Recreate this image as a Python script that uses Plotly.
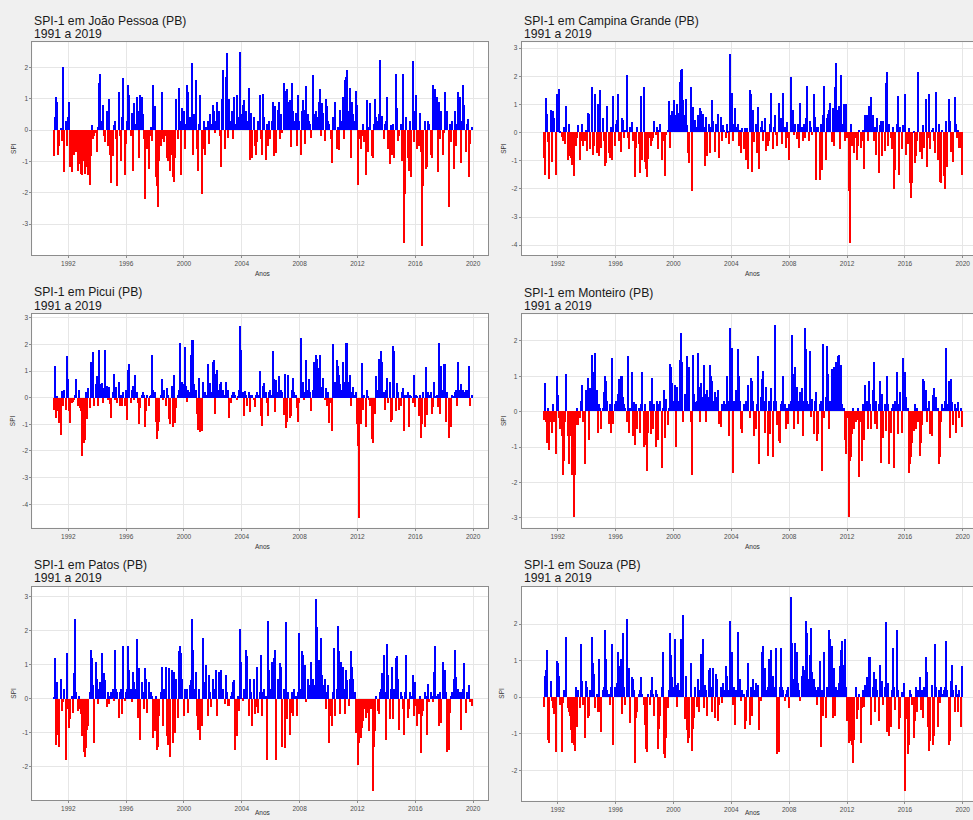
import plotly.graph_objects as go
import pandas as pd

# ---------------- data ----------------
months = pd.date_range("1991-01-01", "2019-12-01", freq="MS")
tick_years = [1992, 1996, 2000, 2004, 2008, 2012, 2016, 2020]
tick_labels = ["1992", "1996", "2000", "2004", "2008", "2012", "2016", "2020"]
titles = ["SPI-1 em João Pessoa (PB)", "SPI-1 em Campina Grande (PB)", "SPI-1 em Picui (PB)",
          "SPI-1 em Monteiro (PB)", "SPI-1 em Patos (PB)", "SPI-1 em Souza (PB)"]
subtitle = "1991 a 2019"

jp_spi = [
    -0.85, 0.4, 1.05, 0.9, -0.8, -0.5, 0.05, -0.35, 2.0, -1.35, 0.3, -0.5,
    0.4, 0.9, -1.2, -1.35, -0.6, -0.8, -0.4, -0.7, -1.3, -1.05, -1.1, -1.4,
    -1.45, -1.0, -1.4, -0.85, -1.2, -1.45, -1.75, -0.85, 0.15, -0.3, -0.2, -0.1,
    -0.7, 0.1, 1.5, 1.8, 0.3, 0.8, -0.2, -0.4, 0.6, -0.5, 1.0, -0.8,
    -1.7, -0.85, 0.15, 0.3, -0.3, -1.8, 1.2, -0.2, -1.0, 0.4, 1.65, -1.45,
    -0.45, 0.3, 1.45, 1.1, -0.2, 0.55, -1.3, 0.85, 0.2, 1.05, 0.6, -0.9,
    1.1, 1.05, 0.5, -0.3, -2.2, -0.4, -0.6, -1.25, -0.2, 0.1, -0.35, 1.45,
    0.75, -1.5, -1.8, -2.45, -1.0, -0.5, 1.2, -0.3, -0.4, -0.2, -0.9, -1.0,
    -0.2, -1.3, -0.8, -1.5, -1.65, -0.9, 1.0, -0.3, 1.35, 0.3, -1.45, 0.7,
    0.6, -0.6, 0.2, 1.45, 1.2, 0.4, 0.3, 2.15, -0.8, 0.5, 1.6, -0.6,
    -1.3, 0.2, 1.1, -2.05, -0.6, 0.3, -0.8, 0.1, 0.3, -0.45, 0.5, 0.2,
    0.8, 0.6, -0.1, 0.3, 0.9, 0.6, -0.2, -1.2, 1.0, 1.9, -0.6, 1.7,
    2.45, -0.25, 1.0, 0.3, 0.6, -0.3, 1.05, 0.2, 1.1, 0.4, 0.1, 2.5,
    0.5, 0.8, 0.95, 0.4, 0.6, 0.3, 1.35, -0.95, 0.55, -0.9, 0.4, -0.5,
    -0.8, -0.4, 0.3, 1.1, -0.3, -0.8, 1.15, 0.4, -0.95, 0.2, -0.5, 0.3,
    -0.3, 0.3, 0.9, -0.85, 0.75, -0.75, 0.65, 0.9, -0.3, 0.5, -0.1, 1.5,
    1.25, 0.4, 1.3, 0.9, 0.95, -0.55, 1.5, 0.6, 0.3, 0.55, -0.5, 1.1,
    0.3, -0.8, 0.6, 0.95, 0.65, -0.45, 1.4, 0.5, 0.3, 0.2, -0.25, 1.75,
    0.5, 0.3, 0.6, 0.4, 0.9, 1.3, -0.2, 0.85, 0.55, -0.35, 1.0, 0.75,
    0.3, 0.2, -0.3, -1.05, 0.4, 0.2, 0.9, -0.6, 0.1, -0.65, 0.65, 0.3,
    1.05, -0.3, 1.6, 1.7, 1.9, 0.6, 1.35, -0.9, 0.9, 0.5, 0.3, 1.25,
    0.8, -1.75, -0.3, -0.6, -0.2, 0.2, -0.4, -1.45, 0.95, -0.7, 0.1, 0.85,
    -0.85, -0.9, 0.2, 1.0, 0.4, 0.3, 0.5, 2.25, 0.1, 0.45, -0.3, 0.2,
    0.3, 1.05, -0.6, -1.1, 0.15, -0.8, 0.2, -0.9, 1.8, 0.7, -0.35, -0.2,
    0.2, -1.0, 1.8, -3.6, -2.05, 0.4, -0.9, -1.3, 0.3, -1.5, 2.2, -0.4,
    0.6, 1.1, -0.6, -0.5, 0.55, -0.7, -3.7, -1.8, 0.3, -1.25, -1.2, 0.3,
    0.2, -0.8, -0.9, 1.45, 0.3, 1.3, 1.05, -1.35, 0.9, -0.3, 0.6, -0.8,
    -0.1, 1.2, 0.3, 0.6, -2.45, 0.2, -0.4, 0.3, -1.25, 0.6, -0.5, 0.2,
    1.2, 1.05, -1.05, 0.3, 1.45, 0.8, -0.7, 0.2, 0.35, -1.5, -0.45, 0.1,
]

cg_spi = [
    -0.9, -1.5, 1.23, 0.65, -0.35, -1.65, 0.8, -1.05, 0.75, 0.5, -1.5, 1.35,
    0.8, 1.55, 0.05, -0.15, -0.3, 0.2, -0.4, 0.95, -1.0, 0.3, -0.85, -0.9,
    -1.15, -1.55, -0.4, -0.5, -0.2, 0.25, -1.0, -0.3, 0.3, -0.5, -0.3, 0.1,
    -0.65, 0.7, 0.65, -0.6, 1.6, -0.8, -0.5, 1.35, -0.75, 1.0, -0.85, 1.5,
    -0.55, 0.5, -0.3, -1.2, -1.1, 0.95, -0.75, -0.9, 0.2, -1.0, 1.3, -0.5,
    0.3, 0.45, 1.35, -0.3, -0.7, 0.5, 0.45, -0.2, 0.1, 2.05, -0.2, -0.6,
    0.2, 0.35, -0.3, -0.2, -1.6, -0.55, 0.2, -0.4, -1.45, 1.3, -1.0, 1.6,
    -1.05, -1.3, -1.6, -0.95, -0.2, -0.5, -0.3, -0.2, 0.4, -0.1, 0.2, -0.6,
    0.1, 0.3, -1.0, -0.3, -0.2, -1.55, -0.1, 0.1, 1.1, -0.55, 0.6, 0.75,
    1.15, 0.4, 0.6, 1.0, 0.7, 1.8, 2.2, 2.25, 1.15, 0.6, 1.2, 0.25,
    -0.75, -1.1, 1.6, -2.1, 0.9, 0.3, 0.45, 0.2, 0.6, 0.55, 0.85, 0.75,
    0.65, 0.2, -1.2, 0.55, -0.85, 0.3, -0.75, 0.2, 1.15, 0.4, -0.7, 0.3,
    0.2, 0.65, -0.9, 0.55, -0.3, 0.25, 0.1, -0.2, 0.3, 0.05, -0.4, 2.8,
    1.4, -0.3, 0.3, 0.85, 0.2, 0.3, -0.5, 0.1, -0.75, 0.15, -0.6, 0.15,
    -1.0, 0.15, -1.3, 1.5, 1.35, -1.4, 0.8, -0.35, 0.3, -0.75, 0.9, -1.3,
    0.2, 0.4, -0.3, 0.1, 0.5, -0.65, -0.5, -0.3, 0.3, 1.4, -0.6, 0.2,
    0.6, -0.1, -0.5, 1.05, 0.3, 0.5, -0.4, 1.4, 0.2, -0.55, 0.35, -0.2,
    -1.0, 1.95, 0.3, 0.8, -0.1, 0.3, -0.25, 0.3, -0.55, 1.05, 0.2, -0.3,
    0.3, -0.2, 0.5, 1.65, -0.3, 0.4, 0.2, -0.1, 1.35, 0.55, -1.7, 0.2,
    0.2, -1.7, 0.3, -1.35, 0.6, 1.65, -1.0, 0.5, 0.65, 0.8, 1.05, -0.35,
    0.85, -0.5, 1.6, 2.45, 0.8, 0.95, -0.6, 2.05, 0.3, 1.0, -0.3, 1.0,
    -0.2, -2.1, -3.95, 0.3, -0.5, -0.3, -0.75, -0.2, -1.0, -0.5, 0.1, -0.55,
    -0.3, 0.1, -1.3, 0.6, 0.6, -0.3, 0.95, 0.3, 1.25, 0.6, -0.3, 0.2,
    -0.8, 0.5, -1.45, 0.25, 0.4, -0.85, 0.4, -0.65, 1.75, 2.15, -0.5, 0.3,
    -0.2, -0.6, 0.2, -2.0, -1.35, 0.3, 1.3, -1.5, 0.2, -0.6, 0.25, 0.1,
    1.35, -0.8, -0.4, 0.15, -1.8, -2.35, -1.8, 0.05, -1.1, -0.85, -0.3, 2.15,
    -0.7, -0.3, -0.95, 0.25, -0.55, 1.2, -1.25, -0.2, 1.35, -0.6, 0.1, 0.15,
    -0.3, -0.75, 1.45, -1.0, 0.3, -1.75, -1.8, 0.1, -1.55, -2.0, 0.4, -1.25,
    1.2, 0.4, -0.7, -0.3, -1.05, 1.25, 0.3, -0.2, 0.1, -0.55, -0.55, -1.5,
]

picui_spi = [
    -0.45, 1.2, -0.75, 0.05, -0.5, -0.95, -1.4, 0.25, -0.3, 0.3, -0.45, 1.55,
    0.7, -0.5, -0.95, -0.2, -0.15, -0.1, 0.1, 0.7, -0.3, 0.3, -0.4, -0.5,
    -2.2, -1.7, -1.6, 0.2, -0.8, 0.35, -0.4, 1.35, 0.6, 1.7, -0.3, 0.5,
    0.8, -0.3, 1.8, 0.5, 0.55, -0.2, 0.35, 1.8, 0.45, -0.1, 0.4, -0.25,
    -0.75, 0.2, 0.9, -0.1, 0.4, -0.2, 0.6, -0.3, 0.1, -0.3, 0.2, -0.3,
    0.3, -0.85, 1.05, 1.25, -0.2, 0.3, 0.45, -0.1, 0.85, 0.2, -0.2, -1.0,
    -0.4, 0.1, 0.2, 0.1, -1.1, -0.5, 0.1, -0.3, 0.05, 0.1, 1.6, 0.3,
    0.2, -0.9, -1.55, -1.25, -0.9, 0.1, 0.7, -0.1, 0.3, -0.3, 0.35, 0.1,
    -0.8, -1.0, 0.45, -1.1, 0.85, -0.95, -0.4, 0.1, 0.3, 2.05, 0.2, 0.6,
    0.5, 1.9, 0.45, -0.15, 0.3, 0.2, 1.6, 2.15, 2.15, 0.5, 0.3, -0.6,
    -1.2, 0.75, -1.3, -1.25, 0.6, 0.1, 0.2, 0.1, 1.25, 0.3, 0.55, 0.2,
    1.35, 1.4, -0.6, 0.9, 1.05, 0.3, 0.5, 0.6, 0.2, 0.3, 0.1, 0.6,
    0.1, 0.3, -0.75, -0.2, 0.1, 0.2, 0.2, 0.1, -0.1, 0.05, 0.3, 2.7,
    1.8, 0.2, -0.7, 0.25, 0.1, -0.3, 0.2, -0.55, 0.1, 0.1, -0.1, -0.35,
    0.1, 0.2, 0.1, 1.0, -0.7, -1.05, 0.45, 0.55, 0.2, -0.2, -0.7, 0.2,
    0.3, 0.1, 1.75, 0.7, -0.55, 0.65, 0.2, 0.8, 0.1, 0.3, 0.2, -0.65,
    0.9, -1.15, -0.9, 0.85, -0.75, -0.7, 0.3, 0.75, 0.2, 0.1, -0.4, -0.9,
    -0.2, 2.25, 0.3, 0.6, -0.1, 0.2, 1.4, 0.3, 0.7, 0.2, -0.5, 0.3,
    1.35, 0.3, 1.6, 1.45, 1.1, 1.6, 0.4, 0.3, 0.75, -0.1, 0.35, -0.3,
    0.2, -0.95, -0.2, -1.25, 2.0, 0.3, 0.6, 1.4, 1.2, 0.85, 0.5, 0.3,
    1.35, 0.6, 0.4, 2.05, 2.05, 0.6, 0.85, -0.3, 0.2, 0.4, 0.1, 0.2,
    -1.0, -1.8, -4.5, -1.0, 1.3, -0.45, 0.1, -1.1, 0.3, 0.05, -0.1, -0.3,
    -1.55, -1.7, -0.35, -0.6, 0.8, 0.3, 1.45, 0.2, 1.75, 1.35, 0.2, -0.45,
    0.3, 0.75, -0.2, 0.6, -0.9, -0.85, 1.95, 1.75, -0.5, 0.55, 0.2, -0.45,
    -0.3, 0.2, 0.35, -1.25, 0.1, 0.1, 0.2, -1.1, 0.1, 0.05, -0.2, 0.85,
    -0.35, 0.1, 0.05, -0.7, 0.1, -1.5, -1.0, 0.2, -1.1, 1.15, -0.65, 0.2,
    0.1, 0.2, -0.6, -0.35, 0.6, 0.05, 0.1, -0.35, 2.05, -0.6, 1.2, 0.3,
    1.25, 1.25, -0.9, 0.2, -1.5, -0.95, -1.1, 0.1, 0.05, 0.2, 0.3, -0.3,
    1.35, 0.3, 0.5, 0.2, 0.3, 0.2, 0.3, 0.1, 0.3, 1.2, -0.3, 0.1,
]

monteiro_spi = [
    -0.25, 0.8, -0.3, -0.9, 0.1, -1.1, -0.3, -0.6, 0.2, -0.3, -1.2, 1.0,
    0.45, -0.2, -0.5, -0.7, -1.8, -1.4, -0.3, 1.05, -0.7, -1.5, -0.7, -0.3,
    -1.8, -3.0, -1.8, -0.4, 0.1, -0.4, -0.2, 0.3, 0.75, -0.3, -1.5, 0.6,
    0.3, 0.95, -0.8, 0.65, 1.6, 1.1, 0.4, 1.65, 0.6, -0.6, 0.2, 0.1,
    -0.5, 0.1, 0.55, 1.0, 0.85, 0.3, -0.35, 0.2, -0.6, 1.5, -0.35, 0.2,
    0.3, 0.1, 0.5, 0.9, 1.0, 1.0, 0.4, 0.2, 0.1, -0.3, 1.55, -0.6,
    0.1, 1.1, -0.7, 0.25, -0.95, 0.2, -0.5, 0.1, -0.6, 0.2, 1.1, -1.0,
    0.2, -0.95, -1.7, -0.6, 0.3, -0.65, 0.95, -0.5, 0.2, -1.0, 0.3, -0.8,
    0.2, 0.3, -1.6, 0.1, 0.6, -0.75, 0.35, -0.4, 0.1, 1.35, 1.25, 0.8,
    0.3, 0.75, -1.0, 0.7, 0.3, 1.45, 2.2, 1.4, -0.3, 0.5, 0.3, 1.55,
    0.2, 1.25, -0.3, -1.8, 1.6, 0.5, 0.25, 0.3, 1.65, 0.7, -0.3, 0.8,
    0.4, 1.3, 0.5, -0.3, 0.6, 0.4, 1.3, 1.0, 0.85, 0.3, 0.55, 0.4,
    0.3, 0.6, -0.35, -0.45, 0.2, 0.1, 0.3, 0.2, 1.0, 0.3, -0.7, 2.35,
    1.8, -1.75, 0.3, 0.2, 0.6, 1.75, 1.0, 0.3, -0.5, -0.6, 0.2, 0.15,
    0.3, 0.2, 0.75, -0.2, 0.95, 0.85, 0.3, -0.7, -0.5, 0.2, 1.55, -1.5,
    0.4, 0.9, 1.15, 0.3, -0.6, 0.7, -1.25, 0.3, -0.65, 0.65, -1.3, 0.3,
    2.45, 0.3, -0.4, -0.85, -0.9, 0.2, 0.3, 1.0, 0.2, -0.5, 0.1, -0.35,
    0.2, 0.3, 2.15, 1.05, -0.5, 1.25, 0.7, -0.35, 0.3, 0.55, 0.65, -0.7,
    0.3, 2.35, 1.75, 0.3, 0.2, 1.7, -0.15, 0.35, -0.65, 0.3, 0.55, -0.85,
    -0.65, 0.2, 0.3, -1.7, 1.9, -0.2, 0.4, 1.85, 1.05, -0.5, 0.3, 1.2,
    1.0, 1.25, 0.8, 1.4, 1.55, 1.6, 0.6, 1.3, 0.2, 0.1, -0.8, -1.2,
    -0.2, -3.0, -1.4, -1.3, -0.65, 0.1, -0.5, -0.3, -0.25, 0.1, -1.85, -0.3,
    -1.4, 0.2, -0.8, 0.75, 0.3, -0.5, 0.85, 0.2, -0.5, 0.6, 1.4, -0.35,
    0.3, -0.5, 0.2, 0.85, -1.45, 0.5, -0.75, 0.2, -0.55, 1.0, 0.2, -1.5,
    -0.6, 0.1, 0.2, -1.6, 0.3, 1.1, -0.65, 0.2, 0.55, -0.6, 1.5, 0.2,
    1.1, 0.4, 0.1, -1.75, -1.5, -1.3, -0.9, -0.55, 0.2, -0.5, 0.1, -0.3,
    -1.25, -0.9, -0.4, 0.9, 0.85, 0.6, -0.3, 0.1, 0.3, -0.65, -0.7, 0.45,
    0.65, 0.3, 0.4, 0.1, -1.5, -1.3, -0.3, 0.2, 0.1, 0.3, 1.8, 0.2,
    0.85, -0.75, 0.9, 0.25, -0.4, 0.2, -0.6, 0.1, 0.25, -0.2, 0.1, -0.45,
]

patos_spi = [
    0.05, 1.2, -1.35, 0.5, -1.05, -1.4, 0.6, -0.35, -0.1, 0.3, -1.8, 1.35,
    -0.3, -0.85, -0.6, 0.1, -0.4, 0.75, 2.35, 0.2, -0.35, 0.1, -0.3, -0.45,
    -1.1, -1.55, -1.7, -1.45, -0.9, -0.8, 0.2, 1.45, 1.2, 0.4, -1.3, 1.1,
    0.6, -0.15, 0.3, 0.5, 1.35, 0.3, 0.75, 0.55, -0.25, 0.2, -0.15, 0.1,
    0.2, 0.3, -0.05, 1.45, 0.3, 0.2, -0.55, 0.2, 0.3, -0.45, 1.55, -0.05,
    0.2, 0.3, 1.55, 0.85, 0.3, -0.1, 0.8, 0.5, 0.3, 1.75, -0.55, 0.9,
    -1.2, 0.5, 0.2, -0.3, 0.9, 0.6, -0.4, 0.5, 0.1, 0.2, 0.1, -1.15,
    -0.95, 0.1, -1.5, -1.4, -0.5, 0.2, 0.95, -0.8, 0.3, 0.95, -1.1, -1.35,
    0.9, -1.7, 0.85, -1.3, 0.8, -1.0, 0.6, -0.55, 1.4, 1.55, 1.35, 0.6,
    -0.5, 0.3, 0.2, 0.3, -0.4, 0.4, 0.55, 2.35, 1.45, 0.3, 0.8, -0.5,
    -0.9, 0.3, -1.2, -0.8, 1.8, 0.5, 0.2, 1.0, -0.5, 0.7, 0.2, -0.25,
    0.6, 0.2, 0.3, 0.85, -0.5, 0.8, 0.3, 0.85, 0.2, 0.3, -0.15, 0.7,
    0.2, -0.2, -0.2, 0.1, 0.2, 0.5, 0.55, -1.5, -1.1, 0.1, -0.35, 2.05,
    1.1, -0.05, 0.3, 0.2, 1.45, 1.25, -0.5, 0.6, 0.2, -0.8, 0.6, -0.45,
    -0.25, 0.95, -0.4, 0.2, 1.3, -0.5, 0.2, 0.3, 0.1, -1.8, 2.3, 0.85,
    0.3, 1.1, 0.2, 1.2, 1.45, -1.8, 0.6, 0.3, 1.05, 0.95, -1.4, 0.3,
    -1.45, 2.25, -0.6, 0.2, -1.05, -0.4, 0.2, -0.5, 0.3, 0.1, -0.5, 0.2,
    1.95, 0.3, 1.4, 1.3, 0.95, 1.0, -0.1, 0.6, 0.4, 0.3, 1.1, 0.6,
    0.3, 0.4, 2.95, 2.1, 1.15, 0.5, 1.8, 0.7, 0.4, 0.6, -0.3, 0.2,
    0.4, -1.3, -0.5, -0.8, 0.2, 1.5, -0.5, 0.3, 2.15, 1.4, -0.45, 1.1,
    0.95, 0.3, -0.45, 0.85, 0.55, -0.2, 0.6, 1.4, 0.95, 0.6, 0.2, -1.0,
    -0.95, -1.95, -1.3, -1.15, -0.85, -0.65, -0.3, -0.55, -0.2, -0.4, -0.95, -0.3,
    -0.3, -2.7, -1.4, -0.95, 0.1, -0.35, -0.45, 0.2, 0.3, 0.75, 1.3, 0.2,
    -1.2, 1.6, 0.7, -0.6, 0.3, 0.95, -0.6, 0.3, 1.2, 1.25, 0.6, -0.9,
    0.2, 0.1, -0.3, -1.05, 0.2, 1.3, -0.55, -0.3, 0.2, 0.1, 0.7, -0.5,
    0.5, -0.2, -0.8, -0.45, 0.1, -1.6, -0.5, -0.35, 0.2, 0.1, -1.05, 0.45,
    -0.1, 0.2, 0.1, -0.1, 0.8, 1.55, 0.1, 0.15, -0.8, 0.2, -0.7, 1.1,
    0.3, 0.85, 0.2, -1.55, -1.5, -0.4, 0.1, 0.2, 0.6, 1.45, 0.65, 0.2,
    0.3, 0.2, -0.9, 0.2, 0.3, 1.05, -0.4, 0.2, 0.1, 0.4, -0.1, -0.2,
]

souza_spi = [
    -0.25, 0.6, 0.75, 1.3, -1.15, -1.25, 0.45, -0.1, -0.3, -0.45, -1.5, 1.0,
    0.95, 0.6, -0.2, -1.5, -0.15, 0.2, 0.1, 1.65, -0.3, -0.4, -0.5, -0.9,
    -1.25, -1.3, -1.45, 0.3, -0.8, 0.2, -0.3, 1.45, 0.45, -0.2, -1.1, 0.45,
    0.3, -0.55, -0.5, 0.2, 1.65, 0.95, 0.65, -0.3, 0.1, -0.4, 1.05, -0.4,
    -0.95, 0.2, 0.3, 1.85, 1.05, 0.2, 0.1, -0.2, 0.3, 1.45, -1.3, 0.3,
    0.2, 0.4, 1.25, 0.85, 1.05, -0.45, 1.75, 0.3, -0.2, 2.15, 0.2, 0.8,
    -0.7, 0.55, 0.5, 0.2, -1.8, -0.55, -0.4, 0.1, 0.2, 0.55, 0.1, -0.2,
    -0.75, -1.4, -1.5, 0.1, -0.2, 0.2, 0.55, 0.1, -0.5, 0.2, 0.1, -1.4,
    -0.85, -0.5, 0.3, 1.25, -1.55, -1.65, -1.1, -0.3, 0.2, 1.75, 1.15, 0.55,
    0.3, 1.6, 0.35, -0.25, 0.4, 0.2, 1.6, 0.3, 2.25, -0.6, 0.6, -0.9,
    -1.25, -1.1, 0.95, -1.45, -0.85, -0.55, 0.3, -0.25, 0.5, -0.4, 0.2, 1.2,
    1.6, -0.3, 0.35, 0.2, -0.5, 0.75, 0.8, 0.3, -0.4, 0.8, -0.55, 0.65,
    0.5, -0.65, -0.2, 0.3, -0.15, 0.4, 0.2, 0.85, 0.6, 0.1, 0.2, 2.1,
    1.25, -0.2, 0.3, -0.75, 0.2, 1.8, 0.3, 0.5, -0.1, 0.2, 0.1, -0.85,
    -0.65, 0.2, 0.95, -0.75, 0.3, -0.5, 0.5, 0.2, 0.4, 0.1, 0.35, -0.9,
    -0.1, 1.25, 1.4, 0.3, 0.8, 0.2, 0.3, 1.05, 0.2, 1.3, 0.6, 0.2,
    0.3, 1.35, -1.55, -1.5, 0.3, 1.35, 0.3, 0.2, -0.1, 0.1, 0.2, 0.3,
    -0.3, 2.75, 1.5, 0.5, 0.3, 1.5, 1.25, 0.4, 0.2, -0.1, 0.6, 0.85,
    0.75, 0.3, 2.1, 1.75, 0.5, 1.15, 1.9, 0.7, 0.5, 0.3, 0.2, -0.2,
    0.3, 1.0, -1.35, 0.2, -0.5, 1.25, -0.55, 0.3, 0.2, 1.85, 1.6, 1.4,
    -0.55, 0.8, -0.5, 0.3, 0.2, 0.4, 0.85, 1.3, 1.55, 0.9, 1.6, 0.3,
    -0.65, -1.25, -1.2, -1.0, -1.3, -1.8, -1.15, 0.3, -0.6, -0.35, 0.1, -1.25,
    -0.3, 0.2, -0.25, 0.35, 0.55, 0.2, 1.1, 1.1, -0.75, 0.3, 0.7, -0.4,
    0.5, 0.2, -0.65, 0.9, 0.3, 0.45, -0.2, 0.3, 2.05, -0.95, 0.4, -1.05,
    -0.8, 0.2, 1.35, 0.3, -0.35, 1.85, 0.2, -0.85, -0.55, 0.15, 0.1, 0.4,
    -2.55, -0.6, -1.55, -1.3, 0.2, 0.1, -0.2, -1.1, -0.65, 0.3, -0.4, 0.2,
    0.55, -0.35, 0.2, -0.55, 0.3, 1.1, 0.7, -0.8, -1.45, -1.2, 0.35, -1.3,
    -1.05, 1.45, 0.3, -0.8, 0.2, -0.15, 0.3, 0.1, 0.2, 0.3, 1.55, 0.2,
    -1.3, -1.2, 0.45, 0.9, 0.2, -0.4, 0.35, 0.1, -0.4, 0.2, -0.8, 0.85,
]

series = [jp_spi, cg_spi, picui_spi, monteiro_spi, patos_spi, souza_spi]

# ---------------- layout geometry (pixels) ----------------
W, H = 973, 820
# (left, right, top, bottom) of each plotting area
boxes = [
    (32.3, 488, 42.3, 255.0),
    (521.7, 973, 42.3, 255.3),
    (32.3, 488, 314.0, 527.7),
    (521.7, 973, 314.3, 527.7),
    (32.3, 488, 586.7, 800.0),
    (521.7, 973, 586.7, 800.7),
]
y_ranges = [(-3.99, 2.81), (-4.36, 3.21), (-4.88, 3.14), (-3.28, 2.75), (-2.98, 3.29), (-2.83, 3.02)]
y_ticks = [[-3, -2, -1, 0, 1, 2], [-4, -3, -2, -1, 0, 1, 2, 3], [-4, -3, -2, -1, 0, 1, 2, 3],
           [-3, -2, -1, 0, 1, 2], [-2, -1, 0, 1, 2, 3], [-2, -1, 0, 1, 2]]
x_right = [2021.03, 2020.71, 2021.03, 2020.71, 2021.03, 2020.71]
x_left = 1989.51
spi_label_x = [13.3, 504, 13.3, 503, 13.3, 502]
anos_center_x = [263, 753, 263, 753, 263, 753]

POS = "#0000FF"
NEG = "#FF0000"
FONT = "Liberation Sans, Arial, sans-serif"


def dec_to_date(y):
    yr = int(y)
    return (pd.Timestamp(yr, 1, 1) + pd.Timedelta(days=(y - yr) * 365.25)).strftime("%Y-%m-%d")


fig = go.Figure()
annotations = []
for i, (vals, (l, r, t, b)) in enumerate(zip(series, boxes)):
    n = i + 1
    xa = "x" if n == 1 else f"x{n}"
    ya = "y" if n == 1 else f"y{n}"
    fig.add_trace(go.Bar(
        x=months, y=vals, xaxis=xa, yaxis=ya,
        marker=dict(color=[POS if v >= 0 else NEG for v in vals], line=dict(width=0)),
        width=27 * 86400000, showlegend=False, hoverinfo="x+y",
    ))
    xd = [l / W, r / W]
    yd = [1 - b / H, 1 - t / H]
    axis_common = dict(showgrid=True, gridcolor="#E6E6E6", gridwidth=1, zeroline=False,
                       showline=True, linecolor="#8C8C8C", linewidth=1, mirror=True,
                       ticks="outside", ticklen=2, tickcolor="#8C8C8C",
                       tickfont=dict(family=FONT, size=6.5, color="#4D4D4D"))
    fig.update_layout(**{
        ("xaxis" if n == 1 else f"xaxis{n}"): dict(
            domain=xd, anchor=ya, type="date",
            range=[dec_to_date(x_left), dec_to_date(x_right[i])],
            tickvals=[f"{y}-01-01" for y in tick_years], ticktext=tick_labels,
            **axis_common),
        ("yaxis" if n == 1 else f"yaxis{n}"): dict(
            domain=yd, anchor=xa, range=list(y_ranges[i]),
            tickvals=y_ticks[i], ticktext=[str(v) for v in y_ticks[i]],
            **axis_common),
    })
    # titles
    annotations.append(dict(text=titles[i], x=l / W, y=1 - (t - 17.3 - 4.4) / H,
                            xref="paper", yref="paper", xanchor="left", yanchor="middle",
                            showarrow=False, font=dict(family=FONT, size=12.2, color="#1A1A1A")))
    annotations.append(dict(text=subtitle, x=l / W, y=1 - (t - 4.0 - 4.4) / H,
                            xref="paper", yref="paper", xanchor="left", yanchor="middle",
                            showarrow=False, font=dict(family=FONT, size=12.2, color="#1A1A1A")))
    annotations.append(dict(text="SPI", x=spi_label_x[i] / W, y=1 - ((t + b) / 2) / H,
                            xref="paper", yref="paper", xanchor="center", yanchor="middle",
                            textangle=-90, showarrow=False,
                            font=dict(family=FONT, size=6.5, color="#333333")))
    annotations.append(dict(text="Anos", x=anos_center_x[i] / W, y=1 - min(b + 18.5, 812.5) / H,
                            xref="paper", yref="paper", xanchor="center", yanchor="middle",
                            showarrow=False, font=dict(family=FONT, size=6.5, color="#333333")))

fig.update_layout(
    width=W, height=H, margin=dict(l=0, r=0, t=0, b=0),
    paper_bgcolor="#F0F0F0", plot_bgcolor="#FFFFFF",
    annotations=annotations, showlegend=False, bargap=0,
)

fig.write_html("out.html", config={"displayModeBar": False},
               post_script="document.body.style.margin='0px';document.body.style.overflow='hidden';")
